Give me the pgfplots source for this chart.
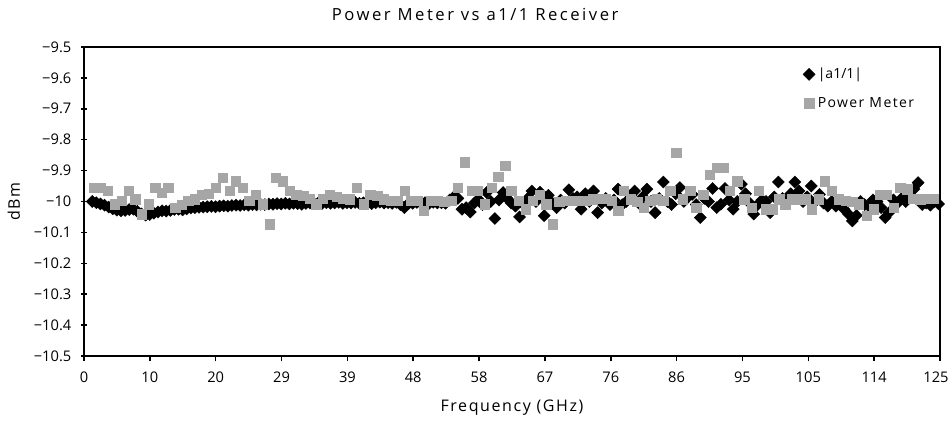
\documentclass[border=0pt]{standalone}
\usepackage{pgfplots}
\pgfplotsset{compat=1.18}
\usepackage{fontspec}
\setmainfont{Open Sans}
\newfontfamily\spaced{Open Sans}[LetterSpace=10]
\newfontfamily\titlefont{Open Sans}[LetterSpace=15]

\definecolor{pmgray}{RGB}{166,166,166}

% |a1/1| receiver reading, dBm
\pgfplotstableread{
x y
1.2 -10.000
1.8 -10.004
2.4 -10.008
3.0 -10.012
3.6 -10.018
4.2 -10.024
4.8 -10.028
5.4 -10.030
6.0 -10.029
6.6 -10.026
7.2 -10.025
7.8 -10.032
8.4 -10.040
9.0 -10.044
9.6 -10.042
10.2 -10.038
10.8 -10.034
11.4 -10.030
12.0 -10.031
12.6 -10.029
13.2 -10.026
13.8 -10.025
14.4 -10.027
15.0 -10.024
15.6 -10.021
16.2 -10.020
16.8 -10.019
17.4 -10.018
18.0 -10.017
18.6 -10.016
19.2 -10.017
19.8 -10.015
20.4 -10.014
21.0 -10.015
21.6 -10.013
22.2 -10.012
22.8 -10.013
23.4 -10.011
24.0 -10.012
24.6 -10.010
25.2 -10.011
25.8 -10.009
26.4 -10.010
27.0 -10.008
27.6 -10.009
28.2 -10.007
28.8 -10.008
29.4 -10.006
30.0 -10.008
30.6 -10.006
31.2 -10.007
31.8 -10.009
32.4 -10.006
33.0 -10.005
33.6 -10.007
34.2 -10.005
34.8 -10.006
35.4 -10.004
36.0 -10.006
36.6 -10.005
37.2 -10.003
37.8 -10.006
38.4 -10.004
39.0 -10.005
39.6 -10.003
40.2 -10.006
40.8 -10.004
41.4 -10.005
42.0 -10.007
42.6 -10.004
43.2 -10.002
43.8 -10.005
44.4 -10.004
45.0 -10.006
45.6 -10.003
46.2 -10.010
46.8 -10.020
47.4 -10.006
48.0 -10.006
48.6 -10.003
49.2 -10.005
49.8 -10.004
50.4 -10.006
51.0 -10.003
51.6 -10.005
52.2 -10.004
52.8 -10.006
53.4 -9.995
54.0 -9.985
54.6 -9.990
55.2 -10.025
55.8 -10.020
56.4 -10.034
57.0 -10.005
57.6 -9.993
58.2 -10.010
58.8 -9.971
59.4 -10.000
60.0 -10.055
60.6 -9.995
61.2 -9.971
61.8 -9.990
62.4 -10.005
63.0 -10.015
63.6 -10.050
64.2 -10.010
64.8 -9.990
65.4 -9.966
66.0 -10.000
66.6 -9.970
67.2 -10.046
67.8 -9.980
68.4 -10.005
69.0 -10.020
69.6 -9.995
70.2 -10.005
70.8 -9.962
71.4 -9.990
72.0 -9.985
72.6 -10.025
73.2 -9.975
73.8 -10.000
74.4 -9.966
75.0 -10.036
75.6 -10.005
76.2 -9.990
76.8 -10.010
77.4 -9.995
78.0 -9.960
78.6 -10.010
79.2 -10.000
79.8 -9.980
80.4 -9.966
81.0 -10.005
81.6 -9.985
82.2 -9.960
82.8 -10.000
83.4 -10.036
84.0 -9.990
84.6 -9.937
85.2 -10.000
85.8 -10.010
86.4 -9.975
87.0 -9.955
87.6 -10.000
88.2 -9.985
88.8 -9.977
89.4 -10.010
90.0 -10.052
90.6 -9.990
91.2 -10.000
91.8 -9.958
92.4 -10.020
93.0 -10.009
93.6 -9.958
94.2 -9.995
94.8 -10.025
95.4 -10.000
96.0 -9.944
96.6 -9.975
97.2 -10.005
97.8 -10.041
98.4 -10.010
99.0 -9.995
99.6 -10.000
100.2 -10.036
100.8 -9.985
101.4 -9.937
102.0 -9.990
102.6 -10.005
103.2 -9.975
103.8 -9.937
104.4 -9.966
105.0 -10.000
105.6 -9.985
106.2 -9.950
106.8 -10.000
107.4 -9.977
108.0 -10.005
108.6 -10.015
109.2 -10.000
109.8 -10.015
110.4 -10.010
111.0 -10.025
111.6 -10.040
112.2 -10.063
112.8 -10.045
113.4 -10.000
114.0 -10.010
114.6 -10.015
115.2 -9.995
115.8 -10.000
116.4 -10.020
117.0 -10.052
117.6 -10.035
118.2 -9.995
118.8 -10.005
119.4 -9.990
120.0 -10.000
120.6 -9.985
121.2 -9.960
121.8 -9.939
122.4 -10.010
123.0 -10.005
123.6 -10.012
124.2 -10.000
124.8 -10.008
}\receiver

% power meter reading, dBm
\pgfplotstableread{
x y
1.4 -9.955
2.4 -9.955
3.5 -9.966
4.5 -10.009
5.5 -9.998
6.5 -9.966
7.5 -9.993
8.4 -10.041
9.4 -10.009
10.4 -9.955
11.3 -9.971
12.3 -9.955
13.3 -10.020
14.3 -10.010
15.2 -9.998
16.2 -9.993
17.2 -9.977
18.2 -9.975
19.2 -9.955
20.3 -9.923
21.3 -9.966
22.2 -9.934
23.2 -9.955
24.1 -9.998
25.1 -9.977
26.1 -10.009
27.1 -10.073
28.0 -9.923
29.0 -9.934
30.0 -9.966
31.0 -9.977
32.0 -9.982
33.0 -9.990
33.9 -10.009
34.9 -9.990
35.9 -9.977
36.9 -9.985
37.8 -9.990
38.8 -9.993
39.8 -9.955
40.8 -10.009
41.8 -9.977
42.8 -9.982
43.8 -9.993
44.8 -9.998
45.8 -9.998
46.8 -9.966
47.8 -9.998
48.7 -9.998
49.6 -10.030
50.6 -9.998
51.6 -9.998
52.6 -10.000
53.6 -9.998
54.6 -9.955
55.6 -9.873
56.6 -9.966
57.5 -9.966
58.5 -10.009
59.5 -9.955
60.5 -9.920
61.5 -9.884
62.4 -9.966
63.5 -9.998
64.5 -10.025
65.5 -9.998
66.5 -9.977
67.5 -10.009
68.4 -10.073
69.4 -10.000
70.4 -9.998
71.4 -9.998
72.4 -9.998
73.3 -9.998
74.3 -9.993
75.3 -9.990
76.2 -9.990
77.1 -9.998
78.0 -10.030
78.8 -9.966
79.8 -9.993
80.8 -10.000
81.7 -10.020
82.7 -9.998
83.6 -9.993
84.6 -9.998
85.6 -9.966
86.5 -9.843
87.4 -9.993
88.5 -9.966
89.4 -10.020
90.4 -9.977
91.4 -9.913
92.4 -9.891
93.4 -9.891
94.3 -9.966
95.4 -9.934
96.4 -9.993
97.5 -10.020
98.5 -9.966
99.5 -10.025
100.5 -10.025
101.5 -9.993
102.4 -10.009
103.4 -9.993
104.4 -9.993
105.3 -9.993
106.3 -10.025
107.3 -9.993
108.2 -9.934
109.2 -9.966
110.2 -9.993
111.2 -9.998
112.2 -10.000
113.1 -10.009
114.3 -10.046
115.3 -10.025
116.2 -9.977
117.2 -9.977
118.2 -10.020
119.2 -9.955
120.2 -9.960
121.1 -9.990
122.1 -9.993
123.1 -9.990
124.1 -9.990
}\powermeter

\begin{document}
\begin{tikzpicture}
\begin{axis}[
    scale only axis,
    width=642pt, height=231.75pt,
    xmin=0, xmax=125,
    ymin=-10.5, ymax=-9.5,
    axis line style={line width=1.1pt},
    xtick={0,9.6154,19.2308,28.8462,38.4615,48.0769,57.6923,67.3077,76.9231,86.5385,96.1538,105.7692,115.3846,125},
    xticklabels={0,10,20,29,39,48,58,67,76,86,95,105,114,\kern-6pt 125},
    minor x tick num=1,
    ytick={-10.5,-10.4,-10.3,-10.2,-10.1,-10,-9.9,-9.8,-9.7,-9.6,-9.5},
    yticklabels={−10.5,−10.4,−10.3,−10.2,−10.1,−10,−9.9,−9.8,−9.7,−9.6,−9.5},
    xtick pos=bottom, ytick pos=left,
    xtick align=outside, ytick align=center,
    major tick length=4pt, minor tick length=4pt,
    every tick/.style={black, line width=1.1pt},
    tick label style={font=\fontsize{11}{13}\selectfont},
    yticklabel style={xshift=-4pt},
    xticklabel style={yshift=-4.5pt},
    title={Power Meter vs a1/1 Receiver},
    title style={at={(0.457,1)}, anchor=center, yshift=18.75pt, font=\titlefont\fontsize{12.5}{14}\selectfont},
    xlabel={Frequency (GHz)},
    xlabel style={at={(0.5,0)}, anchor=center, yshift=-39pt, font=\spaced\fontsize{12}{14}\selectfont},
    ylabel={dBm},
    ylabel style={at={(0,0.5)}, anchor=center, yshift=52.5pt, font=\spaced\fontsize{12}{14}\selectfont},
    legend style={at={(0.835,0.95)}, anchor=north west, draw=none, fill=none,
        font=\fontsize{10.5}{12}\selectfont, row sep=8.5pt},
    legend cell align=left,
    clip=false,
]
\addplot[only marks, mark=square*, mark size=3.2pt,
    mark options={rotate=45, fill=black, draw=black, line width=0.3pt}]
    table[x=x, y=y] {\receiver};
\addlegendentry{|a1/1|}
\addplot[only marks, mark=square*, mark size=3.5pt,
    mark options={fill=pmgray, draw=pmgray, line width=0.3pt}]
    table[x=x, y=y] {\powermeter};
\addlegendentry{\spaced Power Meter}
\end{axis}
\pgfresetboundingbox
\path (current axis.south west) ++(-63pt,-50.25pt) coordinate (bbsw);
\path (current axis.north east) ++(7.5pt,35.25pt) coordinate (bbne);
\path (bbsw) rectangle (bbne);
\end{tikzpicture}
\end{document}
